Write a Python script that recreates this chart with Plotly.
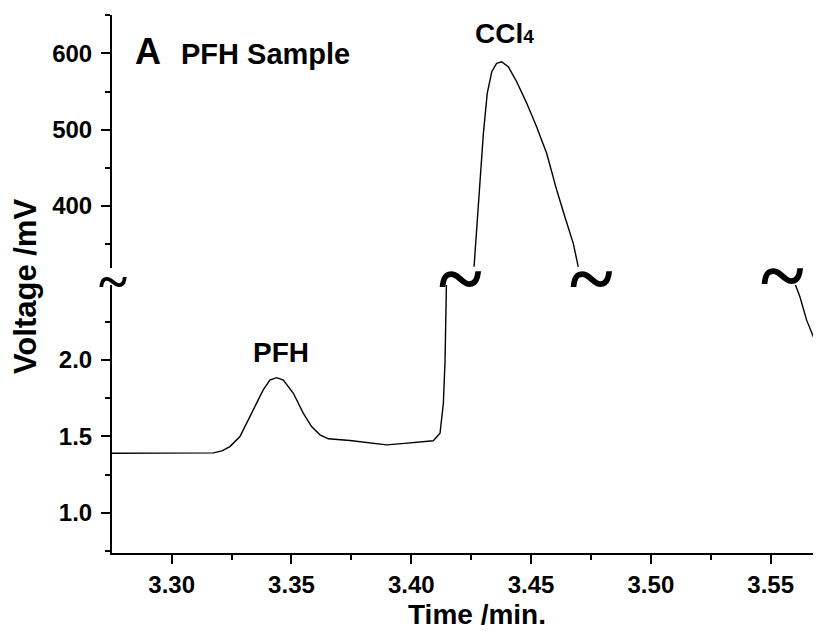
import plotly.graph_objects as go

# ---- data ----
# lower section of the broken axis (baseline, PFH peak, start of CCl4 rise, tail)
time_low = [3.2751, 3.300, 3.3100, 3.3174, 3.3210, 3.3243, 3.3285, 3.3340, 3.3382, 3.3410,
            3.3438, 3.3466, 3.3508, 3.3549, 3.3584, 3.3619, 3.3654, 3.3744, 3.3828,
            3.3897, 3.3960, 3.4036, 3.4092, 3.4120, 3.4134, 3.4141, 3.4145, 3.4147, 3.4149,
            None,
            3.5595, 3.5601, 3.5622, 3.5650, 3.5678, 3.5706, 3.5720]
volt_low = [1.389, 1.389, 1.389, 1.392, 1.405, 1.433, 1.499, 1.673, 1.804, 1.869,
            1.884, 1.869, 1.782, 1.652, 1.564, 1.510, 1.484, 1.473, 1.455,
            1.444, 1.452, 1.462, 1.471, 1.521, 1.717, 2.000, 2.220, 2.460, 2.700,
            None,
            2.600, 2.501, 2.414, 2.261, 2.152, 2.076, 2.030]

# upper section (CCl4 peak, mV)
time_high = [3.4262, 3.4280, 3.4301, 3.4317, 3.4336, 3.4356, 3.4377, 3.4405, 3.4440,
             3.4482, 3.4523, 3.4565, 3.4607, 3.4641, 3.4676, 3.4697]
volt_high = [320.4, 407.8, 495.2, 547.6, 575.9, 586.9, 589.0, 582.4, 562.8,
             534.5, 503.8, 469.0, 420.9, 385.9, 351.1, 320.4]

x_ticks = [3.30, 3.35, 3.40, 3.45, 3.50, 3.55]
x_ticktext = ["3.30", "3.35", "3.40", "3.45", "3.50", "3.55"]
low_ticks = [1.0, 1.5, 2.0]
low_ticktext = ["1.0", "1.5", "2.0"]
high_ticks = [400, 500, 600]
high_ticktext = ["400", "500", "600"]
break_times = [3.4207, 3.4751, 3.5550]

FONT = "Liberation Sans, Arial, sans-serif"
line_style = dict(color="black", width=1.4)

fig = go.Figure()
fig.add_trace(go.Scatter(x=time_low, y=volt_low, mode="lines", line=line_style,
                         connectgaps=False, xaxis="x", yaxis="y", showlegend=False))
fig.add_trace(go.Scatter(x=time_high, y=volt_high, mode="lines", line=line_style,
                         xaxis="x", yaxis="y2", showlegend=False))

axis_common = dict(showline=True, linecolor="black", linewidth=2, ticks="outside",
                   tickcolor="black", tickwidth=2, ticklen=9, showgrid=False,
                   zeroline=False, mirror=False, automargin=False,
                   tickfont=dict(family=FONT, size=24, color="black", weight="bold"))

# the page body adds an 8px offset, so the figure is 8px smaller and margins shifted
fig.update_layout(
    width=813, height=623,
    margin=dict(l=104, r=0, t=7, b=78, autoexpand=False),
    plot_bgcolor="white", paper_bgcolor="white",
    xaxis=dict(range=[3.2751, 3.5710], anchor="y", tickmode="array",
               tickvals=x_ticks, ticktext=x_ticktext,
               minor=dict(ticks="outside", ticklen=5, tickwidth=2, tickcolor="black",
                          tick0=3.275, dtick=0.05),
               **axis_common),
    yaxis=dict(domain=[0, 0.4981], range=[0.736, 2.491], anchor="x",
               tickmode="array", tickvals=low_ticks, ticktext=low_ticktext,
               ticklabelstandoff=4,
               minor=dict(ticks="outside", ticklen=5, tickwidth=2, tickcolor="black",
                          tick0=0.75, dtick=0.5),
               **axis_common),
    yaxis2=dict(domain=[0.5297, 1], range=[318.8, 650.2], anchor="x",
                tickmode="array", tickvals=high_ticks, ticktext=high_ticktext,
                ticklabelstandoff=4,
                minor=dict(ticks="outside", ticklen=5, tickwidth=2, tickcolor="black",
                           tick0=350, dtick=100),
                **axis_common),
)

ann = []
# axis titles
ann.append(dict(text="<b>Time /min.</b>", xref="paper", yref="paper", x=0.5148, y=-0.1148,
                xanchor="center", yanchor="middle", showarrow=False,
                font=dict(family=FONT, size=28, color="black")))
ann.append(dict(text="<b>Voltage /mV</b>", xref="paper", yref="paper", x=-0.1227, y=0.4944,
                xanchor="center", yanchor="middle", textangle=-90, showarrow=False,
                font=dict(family=FONT, size=31, color="black")))
# panel label
ann.append(dict(text="<b>A</b>", xref="paper", yref="paper", x=0.0508, y=0.9318,
                xanchor="center", yanchor="middle", showarrow=False,
                font=dict(family=FONT, size=36, color="black")))
ann.append(dict(text="<b>PFH Sample</b>", xref="paper", yref="paper", x=0.0945, y=0.9266,
                xanchor="left", yanchor="middle", showarrow=False,
                font=dict(family=FONT, size=29, color="black")))
# peak labels
ann.append(dict(text="<b>PFH</b>", xref="x", yref="paper", x=3.3456, y=0.3736,
                xanchor="center", yanchor="middle", showarrow=False,
                font=dict(family=FONT, size=28, color="black")))
ann.append(dict(text="<b>CCl<span style='font-size:19px'>4</span></b>", xref="x", yref="paper",
                x=3.4391, y=0.966, xanchor="center", yanchor="middle", showarrow=False,
                font=dict(family=FONT, size=28, color="black")))
# break marks
ann.append(dict(text="<b>~</b>", xref="paper", yref="paper", x=0.0014, y=0.5028,
                xanchor="center", yanchor="middle", showarrow=False,
                font=dict(family="Liberation Serif, serif", size=54, color="black")))
for bt, by in zip(break_times, [0.5093, 0.511, 0.5167]):
    ann.append(dict(text="<b>~</b>", xref="x", yref="paper", x=bt, y=by,
                    xanchor="center", yanchor="middle", showarrow=False,
                    font=dict(family="Liberation Serif, serif", size=82, color="black")))
fig.update_layout(annotations=ann)

fig.write_html("out.html")
